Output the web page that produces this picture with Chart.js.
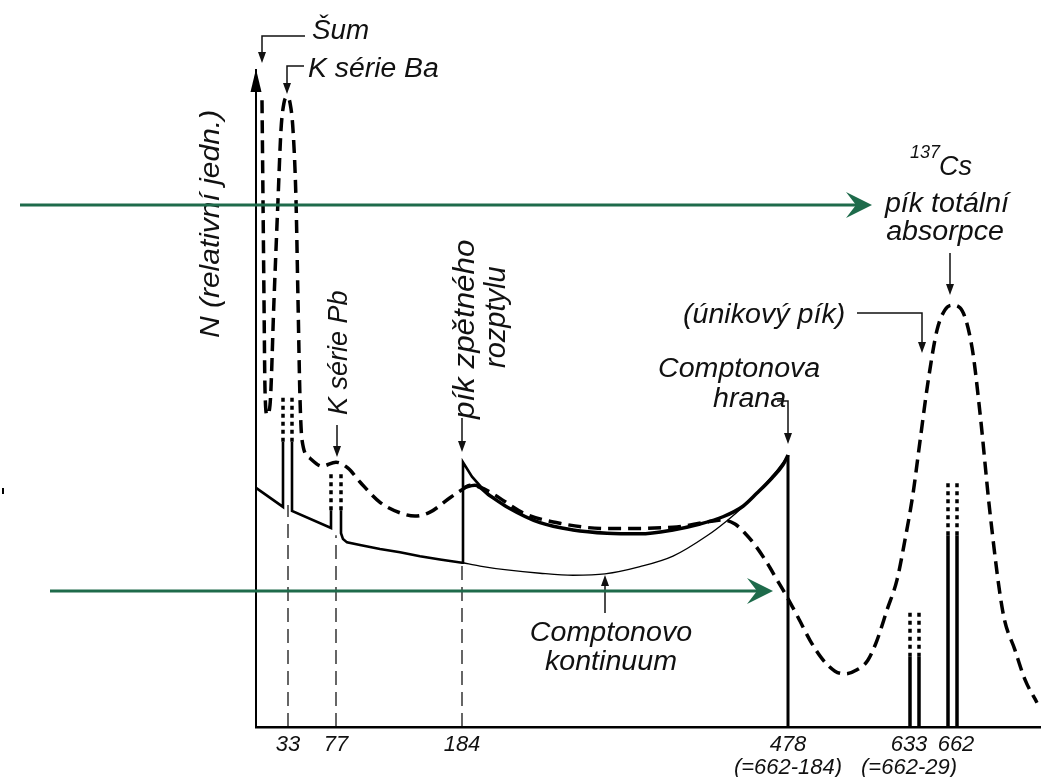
<!DOCTYPE html>
<html>
<head>
<meta charset="utf-8">
<script src="https://cdn.jsdelivr.net/npm/chart.js@4"></script>
<style>
  body { margin: 0; background: #fff; }
</style>
</head>
<body>
<canvas id="graf" width="1050" height="777"></canvas>
<script>
// osa x - poloha popisku a jejich texty (keV)
const tickPos = [32, 80, 206, 532, 653, 700];
const tickLabels = ['33', '77', '184', ['478', '(=662-184)'], ['633', '(=662-29)'], '662'];

// merene spektrum (carkovane)
const spektrum = [[6,95.4],[7,80.2],[8,65.0],[9,51.3],[11,47.5],[14,49.0],[18,65.0],[22,80.2],[25,90.9],[28,95.0],[31,95.9],[34,95.0],[37,90.9],[40,80.2],[42,65.0],[44,50.0],[46,43.7],[54,40.9],[66,39.7],[80,40.3],[92,39.4],[104,37.3],[124,34.2],[144,32.6],[159,32.1],[174,32.7],[194,34.9],[206,36.1],[214,36.8],[224,36.5],[239,35.3],[267,32.6],[304,31.0],[351,30.2],[417,30.4],[451,31.2],[467,31.5],[479,30.9],[489,29.5],[499,27.7],[511,25.0],[521,22.4],[531,19.8],[542,16.7],[554,13.2],[566,10.4],[579,8.5],[589,8.1],[601,8.7],[612,10.2],[621,13.2],[631,17.8],[641,22.4],[649,28.5],[657,35.5],[664,43.5],[672,52.5],[681,60.4],[689,63.5],[696,64.2],[704,63.8],[716,57.8],[724,47.8],[734,32.6],[747,17.4],[759,11.7],[769,7.2],[781,3.7]];

// Comptonovo kontinuum s pikem zpetneho rozptylu
const compton = [[207,36.4],[219,36.8],[234,35.2],[251,33.5],[284,31.1],[317,30.0],[351,29.5],[384,29.4],[417,30.0],[444,30.9],[467,32.0],[487,33.6],[501,35.6],[516,37.9],[527,39.9],[532,41.4]];

// tenka cara Comptonova kontinua
const kontinuum = [[207,25.0],[224,24.5],[251,23.9],[284,23.4],[317,23.1],[349,23.3],[384,24.4],[417,26.0],[451,29.1],[471,31.4],[489,33.8],[504,36.1],[519,38.7],[531,41.1]];

// odezva detektoru (null = preruseni cary)
const odezva = [[0,36.4],[27,33.5],[27,43.4],null,[36,43.4],[36,32.9],[75,30.3],[75,33.0],null,[85,33.0],[85,29.5],[87,28.6],[91,28.1],[104,27.7],[124,27.1],[144,26.6],[164,26.0],[184,25.5],[206,25.0],[207,25.0],[207,40.3],[216,38.1],[227,36.2]];

const hrana = [[532,41.4],[532,0]];
const piky = [[654,0],[654,10.7],null,[663,0],[663,10.7],null,[692,0],[692,29.2],null,[701,0],[701,29.2]];
const pikyTecky = [[27,43.4],[27,50.1],null,[36,43.4],[36,50.1],null,[75,33.0],[75,38.7],null,[85,33.0],[85,38.7],null,[654,10.7],[654,17.4],null,[663,10.7],[663,17.4],null,[692,29.2],[692,37.1],null,[701,29.2],[701,37.1]];
const vodici = [[32,0],[32,33.8],null,[80,0],[80,29.2],null,[206,0],[206,25.0]];

function pts(a) {
    let lastX = 0;
    return a.map(p => {
        if (!p) return {x: lastX, y: null};
        lastX = p[0];
        return {x: p[0], y: p[1]};
    });
}

const FONT = '"Liberation Sans", Arial, sans-serif';
Chart.defaults.font.family = FONT;

function napis(ctx, s, x, y, size, align, rot, sx) {
    ctx.save();
    ctx.translate(x, y);
    if (rot) ctx.rotate(rot);
    ctx.scale(sx || 1, 1);
    ctx.font = 'italic ' + size + 'px ' + FONT;
    ctx.textAlign = align || 'left';
    ctx.textBaseline = 'alphabetic';
    ctx.fillStyle = '#111';
    ctx.fillText(s, 0, 0);
    ctx.restore();
}

function sipka(ctx, body, head, half) {
    head = head || 11; half = half || 4;
    const n = body.length;
    const [x1, y1] = body[n - 2], [x2, y2] = body[n - 1];
    const a = Math.atan2(y2 - y1, x2 - x1);
    ctx.save();
    ctx.strokeStyle = '#111';
    ctx.fillStyle = '#111';
    ctx.lineWidth = 1.5;
    ctx.beginPath();
    body.forEach((p, i) => {
        let px = p[0], py = p[1];
        if (i === n - 1) { px -= (head - 2) * Math.cos(a); py -= (head - 2) * Math.sin(a); }
        i ? ctx.lineTo(px, py) : ctx.moveTo(px, py);
    });
    ctx.stroke();
    ctx.beginPath();
    ctx.moveTo(x2, y2);
    ctx.lineTo(x2 - head * Math.cos(a) + half * Math.sin(a), y2 - head * Math.sin(a) - half * Math.cos(a));
    ctx.lineTo(x2 - head * Math.cos(a) - half * Math.sin(a), y2 - head * Math.sin(a) + half * Math.cos(a));
    ctx.closePath();
    ctx.fill();
    ctx.restore();
}

function zelena(ctx, x1, x2, y) {
    ctx.save();
    ctx.strokeStyle = '#1e6b4b';
    ctx.fillStyle = '#1e6b4b';
    ctx.lineWidth = 3;
    ctx.beginPath();
    ctx.moveTo(x1, y);
    ctx.lineTo(x2 - 14, y);
    ctx.stroke();
    ctx.beginPath();
    ctx.moveTo(x2, y);
    ctx.lineTo(x2 - 26, y - 13);
    ctx.lineTo(x2 - 16, y);
    ctx.lineTo(x2 - 26, y + 13);
    ctx.closePath();
    ctx.fill();
    ctx.restore();
}

const popisky = {
    id: 'popisky',
    afterDraw(chart) {
        const ctx = chart.ctx;
        const a = chart.chartArea;

        // sipka osy y
        ctx.save();
        ctx.fillStyle = '#000';
        ctx.beginPath();
        ctx.moveTo(a.left, a.top - 1);
        ctx.lineTo(a.left - 5.5, a.top + 22);
        ctx.lineTo(a.left + 5.5, a.top + 22);
        ctx.closePath();
        ctx.fill();
        ctx.fillRect(2, 488, 2, 6);
        ctx.restore();

        napis(ctx, 'N (relativní jedn.)', 219, 338, 28, 'left', -Math.PI / 2, 1.07);

        napis(ctx, 'Šum', 312, 39, 27, 'left', 0, 1.03);
        sipka(ctx, [[305, 36], [262, 36], [262, 63]]);
        napis(ctx, 'K série Ba', 308, 77, 27, 'left', 0, 1.05);
        sipka(ctx, [[304, 66], [287, 66], [287, 94]]);

        napis(ctx, 'K série Pb', 347, 415, 27, 'left', -Math.PI / 2, 1.0);
        sipka(ctx, [[337, 425], [337, 457]]);

        napis(ctx, 'pík zpětného', 474, 419, 29, 'left', -Math.PI / 2, 1.08);
        napis(ctx, 'rozptylu', 505, 368, 29, 'left', -Math.PI / 2, 1.0);
        sipka(ctx, [[462, 418], [462, 452]]);

        napis(ctx, 'Comptonova', 658, 377, 27, 'left', 0, 1.06);
        napis(ctx, 'hrana', 713, 407, 27, 'left', 0, 1.06);
        sipka(ctx, [[777, 401], [788, 401], [788, 444]]);

        napis(ctx, '(únikový pík)', 683, 323, 27, 'left', 0, 1.06);
        sipka(ctx, [[857, 313], [922, 313], [922, 353]]);

        napis(ctx, '137', 910, 158, 18, 'left', 0, 1.0);
        napis(ctx, 'Cs', 939, 175, 27, 'left', 0, 1.0);
        napis(ctx, 'pík totální', 947, 212, 27, 'center', 0, 1.06);
        napis(ctx, 'absorpce', 945, 240, 27, 'center', 0, 1.06);
        sipka(ctx, [[950, 253], [950, 295]]);

        napis(ctx, 'Comptonovo', 611, 641, 27, 'center', 0, 1.06);
        napis(ctx, 'kontinuum', 611, 670, 27, 'center', 0, 1.06);
        sipka(ctx, [[605, 613], [605, 575]]);

        zelena(ctx, 20, 872, 205);
        zelena(ctx, 50, 773, 591);
    }
};

const cara = (data, w, extra) => Object.assign({
    data: pts(data),
    borderColor: '#000',
    borderWidth: w,
    pointRadius: 0,
    fill: false,
    tension: 0
}, extra || {});

new Chart(document.getElementById('graf'), {
    type: 'line',
    data: {
        datasets: [
            cara(spektrum, 3.5, {borderDash: [13, 7], cubicInterpolationMode: 'monotone'}),
            cara(compton, 3.5, {cubicInterpolationMode: 'monotone'}),
            cara(kontinuum, 1.3, {cubicInterpolationMode: 'monotone'}),
            cara(odezva, 2.6),
            cara(hrana, 3),
            cara(piky, 3.5),
            cara(pikyTecky, 3.5, {borderDash: [4, 4]}),
            cara(vodici, 1.2, {borderDash: [14, 7]})
        ]
    },
    options: {
        responsive: false,
        animation: false,
        events: [],
        layout: {padding: {left: 256, right: 10, top: 70, bottom: 0}},
        plugins: {legend: {display: false}, tooltip: {enabled: false}},
        scales: {
            x: {
                type: 'linear',
                min: 0,
                max: 784,
                grid: {display: false, drawTicks: false},
                border: {display: true, color: '#000', width: 2.5},
                afterBuildTicks(s) { s.ticks = tickPos.map(v => ({value: v})); },
                afterFit(s) { s.height = 50; },
                ticks: {
                    autoSkip: false,
                    maxRotation: 0,
                    padding: 6,
                    color: '#111',
                    font: {size: 22, style: 'italic', lineHeight: 1.05},
                    callback: (v, i) => tickLabels[i]
                }
            },
            y: {
                type: 'linear',
                min: 0,
                max: 100,
                grid: {display: false, drawTicks: false},
                border: {display: true, color: '#000', width: 2},
                ticks: {display: false},
                afterFit(s) { s.width = 0; }
            }
        }
    },
    plugins: [popisky]
});
</script>
</body>
</html>
